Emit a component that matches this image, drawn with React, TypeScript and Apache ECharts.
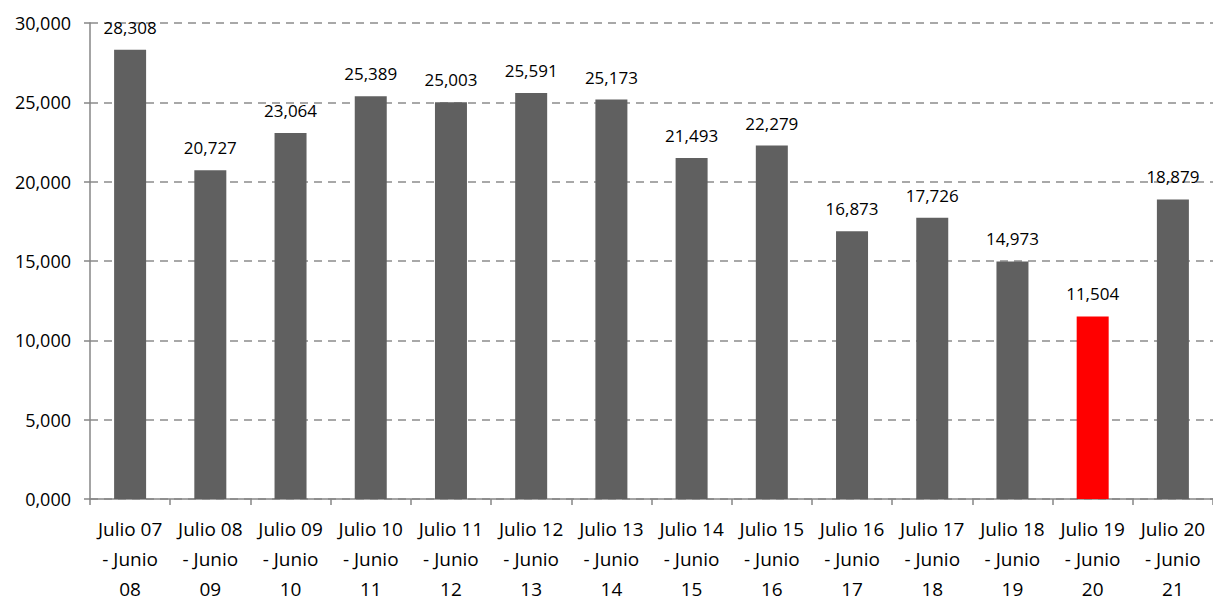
import React, { useEffect, useRef } from "react";
import * as echarts from "echarts";

const categories = [
  "Julio 07\n- Junio\n08", "Julio 08\n- Junio\n09", "Julio 09\n- Junio\n10", "Julio 10\n- Junio\n11",
  "Julio 11\n- Junio\n12", "Julio 12\n- Junio\n13", "Julio 13\n- Junio\n14", "Julio 14\n- Junio\n15",
  "Julio 15\n- Junio\n16", "Julio 16\n- Junio\n17", "Julio 17\n- Junio\n18", "Julio 18\n- Junio\n19",
  "Julio 19\n- Junio\n20", "Julio 20\n- Junio\n21",
];
const values = [28308, 20727, 23064, 25389, 25003, 25591, 25173, 21493, 22279, 16873, 17726, 14973, 11504, 18879];
const highlightIndex = 12;

const fmt = (v: number) => {
  const th = Math.floor(v / 1000);
  const rest = String(Math.round(v % 1000)).padStart(3, "0");
  return th + "," + rest;
};

export default function App() {
  const ref = useRef<HTMLDivElement>(null);
  useEffect(() => {
    const chart = echarts.init(ref.current!, undefined, { renderer: "svg" });
    const font = "Open Sans";
    chart.setOption({
      animation: false,
      textStyle: { fontFamily: font },
      grid: { left: 90, right: 0, top: 23, bottom: 99, containLabel: false },
      xAxis: {
        type: "category",
        data: categories,
        axisLine: { lineStyle: { color: "#868686", width: 1.5 } },
        axisTick: { show: true, length: 6, lineStyle: { color: "#868686", width: 1.5 } },
        axisLabel: { color: "#000", fontSize: 19, lineHeight: 30, margin: 15, interval: 0, fontFamily: font },
      },
      yAxis: {
        type: "value",
        min: 0,
        max: 30000,
        interval: 5000,
        axisLine: { show: true, lineStyle: { color: "#868686", width: 1.5 } },
        axisTick: { show: true, length: 6, lineStyle: { color: "#868686", width: 1.5 } },
        axisLabel: { color: "#000", fontSize: 18, margin: 19, formatter: (v: number) => fmt(v), fontFamily: font },
        splitLine: { show: true, lineStyle: { color: "#8c8c8c", type: [8, 6], width: 1.5 } },
      },
      series: [
        {
          type: "bar",
          barWidth: 32,
          data: values.map((v, i) => ({
            value: v,
            itemStyle: { color: i === highlightIndex ? "#ff0000" : "#606060" },
          })),
          label: {
            show: true,
            position: "top",
            distance: 14,
            color: "#000",
            fontSize: 17,
            fontFamily: font,
            formatter: (p: any) => fmt(p.value),
          },
        },
      ],
    });
    return () => chart.dispose();
  }, []);
  return <div ref={ref} style={{ position: "absolute", left: 0, top: 0, width: 1213, height: 604 }} />;
}
